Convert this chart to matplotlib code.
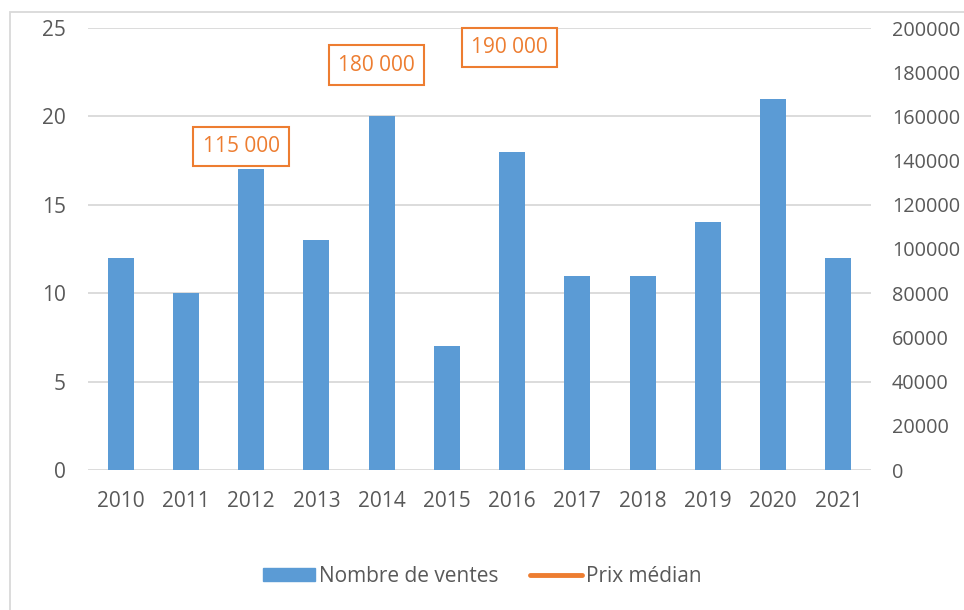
# Ventes annuelles et prix médian
import matplotlib.pyplot as plt
import matplotlib.patches as mpatches
from matplotlib.lines import Line2D
import numpy as np

plt.rcParams['font.family'] = ['Open Sans', 'DejaVu Sans']

# Données
annees = ['2010', '2011', '2012', '2013', '2014', '2015',
          '2016', '2017', '2018', '2019', '2020', '2021']
nb_ventes = [12, 10, 17, 13, 20, 7, 18, 11, 11, 14, 21, 12]

# Étiquettes de prix médian (position en index d'année / valeur axe gauche)
prix_labels = ['115 000', '180 000', '190 000']
prix_x = [1.85, 3.92, 5.96]
prix_y = [18.3, 22.9, 23.9]

bleu = '#5B9BD5'
orange = '#ED7D31'
gris_texte = '#595959'
gris_grille = '#D9D9D9'
fs = 15

fig = plt.figure(figsize=(9.64, 6.10), dpi=100)
W, H = 964, 610
ax = fig.add_axes([88 / W, (H - 470) / H, (871 - 88) / W, (470 - 28) / H])

x = np.arange(len(annees))
ax.bar(x, nb_ventes, width=0.4, color=bleu, zorder=3)

ax.set_xlim(-0.5, len(annees) - 0.5)
ax.set_ylim(0, 25)
ax.set_yticks(range(0, 26, 5))
ax.set_xticks(x)
ax.set_xticklabels(annees)
ax.yaxis.grid(True, color=gris_grille, linewidth=1.3, zorder=0)
for s in ax.spines.values():
    s.set_visible(False)
ax.tick_params(length=0, labelsize=fs, labelcolor=gris_texte)
ax.tick_params(axis='y', pad=16)
ax.tick_params(axis='x', pad=15)

# Axe secondaire pour le prix
ax2 = ax.twinx()
ax2.set_ylim(0, 200000)
ax2.set_yticks(range(0, 200001, 20000))
for s in ax2.spines.values():
    s.set_visible(False)
ax2.tick_params(length=0, labelsize=14.3, labelcolor=gris_texte, pad=15)

for lab, px, py in zip(prix_labels, prix_x, prix_y):
    ax.text(px, py, lab, ha='center', va='center', fontsize=fs, color=orange,
            zorder=5,
            bbox=dict(boxstyle='square,pad=0.45', facecolor='white',
                      edgecolor=orange, linewidth=1.5))

# Légende
handles = [mpatches.Patch(color=bleu, label='Nombre de ventes'),
           Line2D([0], [0], color=orange, linewidth=3.5, solid_capstyle='round',
                  label='Prix médian')]
fig.legend(handles=handles, loc='center', bbox_to_anchor=(0.5, (H - 576) / H),
           ncol=2, frameon=False, fontsize=fs, labelcolor=gris_texte,
           handlelength=2.5, handleheight=0.6, handletextpad=0.2,
           columnspacing=1.5)

# Cadre du graphique
fig.patches.append(mpatches.Rectangle((9.5 / W, -0.1), 1.2, (H - 12.5) / H + 0.1,
                                      transform=fig.transFigure, fill=False,
                                      edgecolor=gris_grille, linewidth=1.3))

fig.savefig('out.png', dpi=100)
